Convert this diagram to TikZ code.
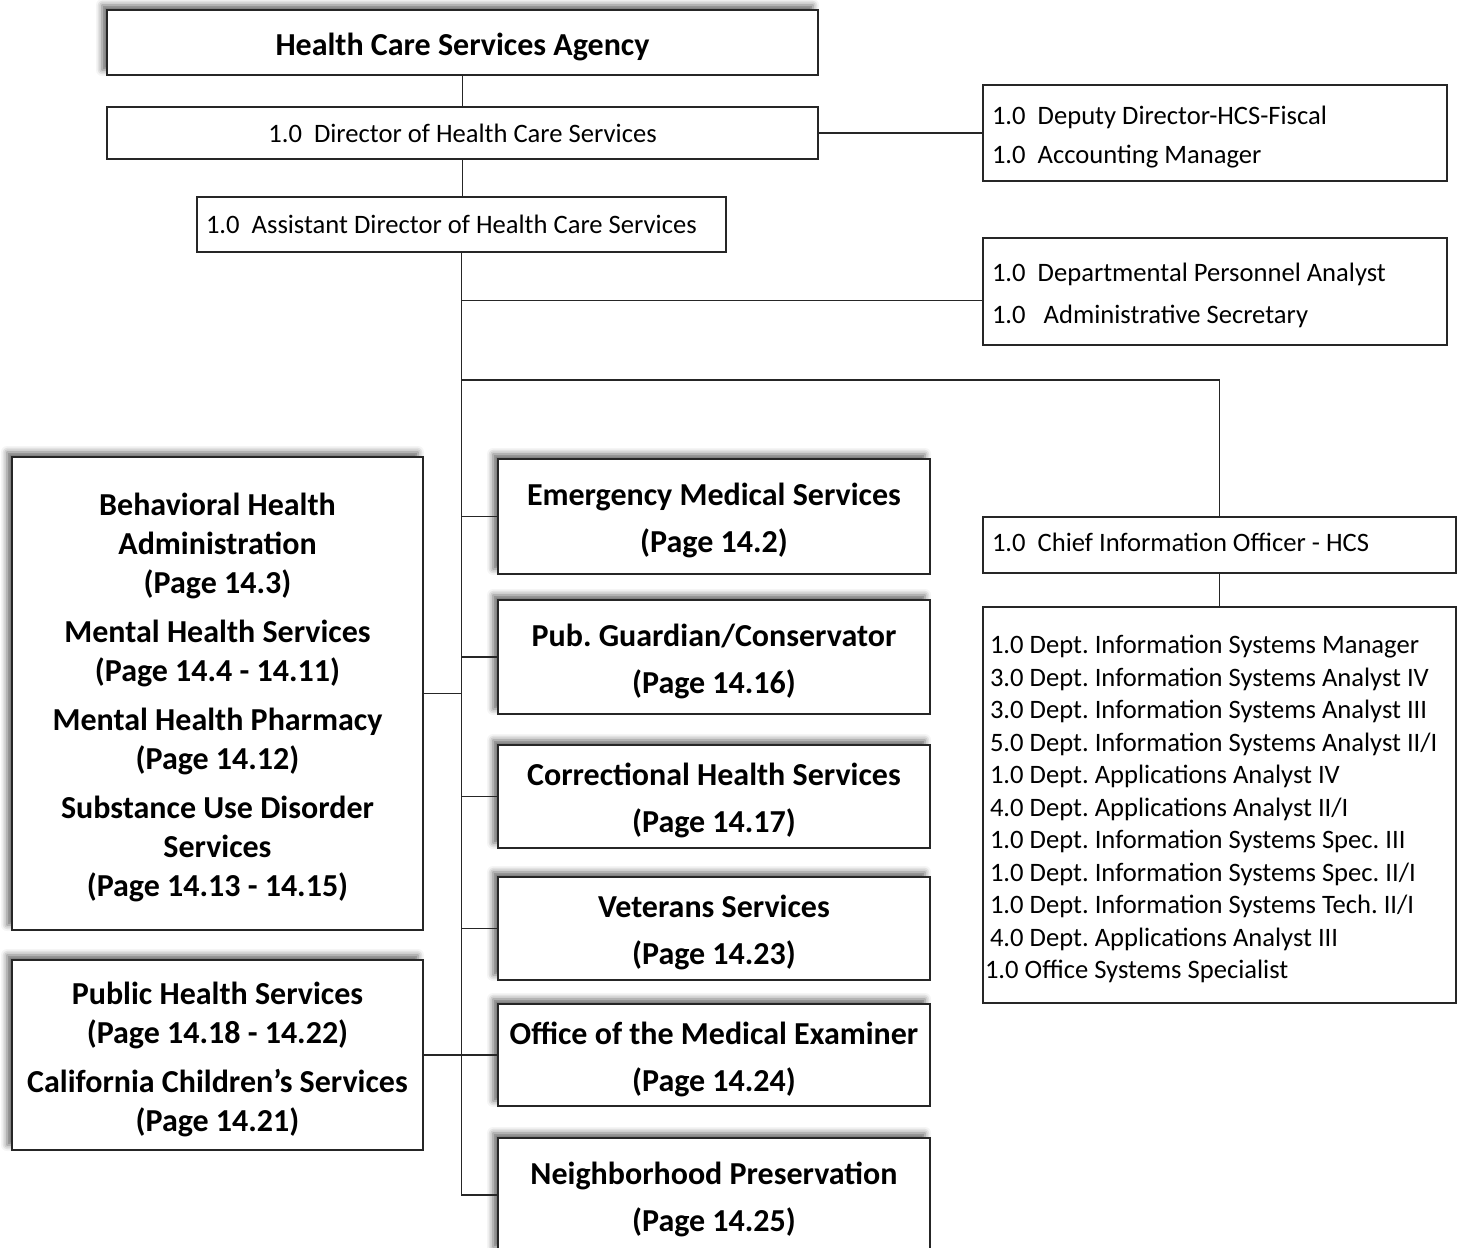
\documentclass[tikz,border=0pt]{standalone}
\usepackage{fontspec}
\setmainfont{Carlito}
\usetikzlibrary{shadows.blur}
\frenchspacing
\begin{document}
\begin{tikzpicture}[x=0.5pt,y=-0.5pt,
  box/.style={draw=black!85, line width=0.7pt, fill=white, inner sep=0pt, anchor=center},
  shad/.style={blur shadow={shadow xshift=-2.5pt, shadow yshift=2.5pt, shadow blur radius=3pt, shadow opacity=60}},
  boldtxt/.style={font=\bfseries\fontsize{16}{19.5}\selectfont, align=flush center, execute at begin node={\rule{0pt}{15.5pt}}},
  regtxt/.style={font=\fontsize{13.3}{16.25}\selectfont},
  lefttxt/.style={regtxt, align=flush left, inner xsep=4.5pt, inner ysep=0pt},
  conn/.style={draw=black!85, line width=0.7pt}]
\useasboundingbox (0,0) rectangle (1464,1248);

% top chain
\node[box, shad, boldtxt, minimum width=355.5pt, minimum height=32.5pt, text width=350pt] (agency) at (462.5,42.5) {Health Care Services Agency};
\node[box, regtxt, align=flush center, minimum width=355.5pt, minimum height=26pt, text width=350pt] (dir) at (462.5,133) {1.0\ \ Director of Health Care Services};
\node[box, lefttxt, minimum width=232pt, minimum height=48pt, text width=223pt] (fiscal) at (1215,133) {\rule{0pt}{13.5pt}1.0\ \ Deputy Director-HCS-Fiscal\\[3.25pt]1.0\ \ Accounting Manager};
\node[box, lefttxt, minimum width=264.5pt, minimum height=27.5pt, text width=255.5pt] (asst) at (461.5,224.5) {1.0\ \ Assistant Director of Health Care Services};
\node[box, lefttxt, minimum width=232pt, minimum height=53.5pt, text width=223pt] (pers) at (1215,291.5) {\rule{0pt}{13.5pt}1.0\ \ Departmental Personnel Analyst\\[4.75pt]1.0\ \ \ Administrative Secretary};
\node[box, lefttxt, minimum width=236.5pt, minimum height=28pt, text width=227.5pt] (cio) at (1219.5,545) {\rule[-3pt]{0pt}{3pt}1.0\ \ Chief Information Officer - HCS};
\node[box, lefttxt, inner xsep=3.5pt, minimum width=236.5pt, minimum height=198pt, text width=229.5pt] (it) at (1219.5,805) {\rule{0pt}{13.3pt}1.0 Dept. Information Systems Manager\\
3.0 Dept. Information Systems Analyst IV\\
3.0 Dept. Information Systems Analyst III\\
5.0 Dept. Information Systems Analyst II/I\\
1.0 Dept. Applications Analyst IV\\
4.0 Dept. Applications Analyst II/I\\
1.0 Dept. Information Systems Spec. III\\
1.0 Dept. Information Systems Spec. II/I\\
1.0 Dept. Information Systems Tech. II/I\\
4.0 Dept. Applications Analyst III\\
\hspace*{-2.5pt}1.0 Office Systems Specialist};

% left boxes
\node[box, shad, boldtxt, minimum width=205.5pt, minimum height=236.5pt, text width=200pt] (behav) at (217.5,693.5) {Behavioral Health\\Administration\\(Page 14.3)\\[5pt]Mental Health Services\\(Page 14.4 - 14.11)\\[5pt]Mental Health Pharmacy\\(Page 14.12)\\[5pt]Substance Use Disorder\\Services\\(Page 14.13 - 14.15)};
\node[box, shad, boldtxt, minimum width=205.5pt, minimum height=95pt, text width=200pt] (pubh) at (217.5,1055) {Public Health Services\\(Page 14.18 - 14.22)\\[5pt]California Children’s Services\\(Page 14.21)};

% middle boxes
\node[box, shad, boldtxt, minimum width=216pt, minimum height=57.5pt, text width=212pt] (ems) at (714,516.5) {Emergency Medical Services\\[4pt](Page 14.2)};
\node[box, shad, boldtxt, minimum width=216pt, minimum height=57pt, text width=212pt] (pg) at (714,657) {Pub. Guardian/Conservator\\[4pt](Page 14.16)};
\node[box, shad, boldtxt, minimum width=216pt, minimum height=51.5pt, text width=212pt] (corr) at (714,796.5) {Correctional Health Services\\[4pt](Page 14.17)};
\node[box, shad, boldtxt, minimum width=216pt, minimum height=51.5pt, text width=212pt] (vet) at (714,928.5) {Veterans Services\\[4pt](Page 14.23)};
\node[box, shad, boldtxt, minimum width=216pt, minimum height=51pt, text width=212pt] (ome) at (714,1055) {Office of the Medical Examiner\\[4pt](Page 14.24)};
\node[box, shad, boldtxt, minimum width=216pt, minimum height=57pt, text width=212pt] (np) at (714,1195) {Neighborhood Preservation\\[4pt](Page 14.25)};

% connectors
\coordinate (cioj) at (462,380);
\draw[conn] (agency.south) -- (dir.north);
\draw[conn] (dir.east) -- (fiscal.west);
\draw[conn] (dir.south) -- (dir.south |- asst.north);
\draw[conn] (asst.south) -- (asst.south |- np.west) -- (np.west);
\draw[conn] ([yshift=-4.5pt]pers.west) -- ([yshift=-4.5pt]pers.west -| asst.south);
\draw[conn] (cioj) -| (cio.north);
\draw[conn] (cio.south) -- (it.north);
\draw[conn] (ems.west) -- (ems.west -| asst.south);
\draw[conn] (pg.west) -- (pg.west -| asst.south);
\draw[conn] (corr.west) -- (corr.west -| asst.south);
\draw[conn] (vet.west) -- (vet.west -| asst.south);
\draw[conn] (behav.east) -- (behav.east -| asst.south);
\draw[conn] (pubh.east) -- (ome.west);
\end{tikzpicture}
\end{document}
